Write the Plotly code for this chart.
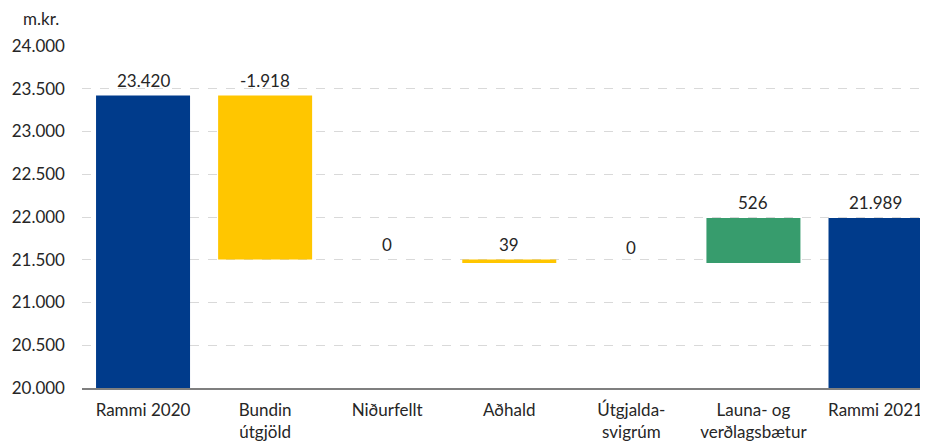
import plotly.graph_objects as go

categories = ["Rammi 2020", "Bundin<br>útgjöld", "Niðurfellt", "Aðhald",
              "Útgjalda-<br>svigrúm", "Launa- og<br>verðlagsbætur", "Rammi 2021"]
values = [23420, -1918, 0, -39, 0, 526, 21989]
measures = ["total", "relative", "relative", "relative", "relative", "relative", "total"]
labels = ["23.420", "-1.918", "0", "39", "0", "526", "21.989"]

BLUE = "#003b8b"
YELLOW = "#ffc600"
GREEN = "#379c6d"
TXT = "#262626"
FONT = "Lato"
FS = 17

bases, heights, colors, tops = [], [], [], []
running = 0
for v, m in zip(values, measures):
    if m == "total":
        bases.append(0)
        heights.append(v)
        colors.append(BLUE)
        running = v
        tops.append(v)
    else:
        bases.append(running)
        heights.append(v)
        colors.append(GREEN if v > 0 else YELLOW)
        tops.append(max(running, running + v))
        running += v

fig = go.Figure()
fig.add_trace(go.Bar(x=categories, y=heights, base=bases, marker=dict(color=colors, line=dict(width=0)),
                     width=0.77, showlegend=False, hoverinfo="skip"))

annotations = [dict(x=c, y=t, text=l, xref="x", yref="y", showarrow=False, yanchor="bottom",
                    yshift=3, font=dict(family=FONT, size=FS, color=TXT))
               for c, t, l in zip(categories, tops, labels)]
annotations.append(dict(text="m.kr.", xref="paper", yref="paper", x=-0.048, y=1.079,
                        xanchor="center", yanchor="middle", showarrow=False,
                        font=dict(family=FONT, size=FS, color=TXT)))

fig.update_layout(
    width=920, height=435,
    margin=dict(l=74, r=0, t=38, b=55),
    paper_bgcolor="white", plot_bgcolor="white",
    separators=",.",
    font=dict(family=FONT, size=FS, color=TXT),
    xaxis=dict(showgrid=False, showline=True, linecolor="#7f7f7f", linewidth=1.5,
               range=[-0.5, 6.43], ticks="", ticklabelstandoff=6,
               tickfont=dict(family=FONT, size=FS, color=TXT)),
    yaxis=dict(range=[20000, 24000], dtick=500, tickformat=",d", showgrid=True,
               gridcolor="#d9d9d9", griddash="dash", gridwidth=1, zeroline=False,
               showline=False, ticks="", ticklabelstandoff=16,
               tickfont=dict(family=FONT, size=FS, color=TXT)),
    annotations=annotations,
)
fig.write_html("out.html")
